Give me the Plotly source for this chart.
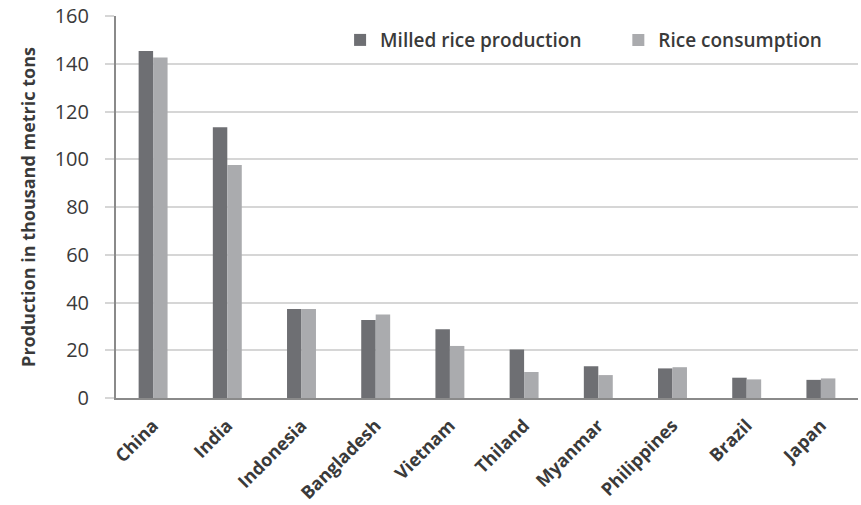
import plotly.graph_objects as go

countries = ["China", "India", "Indonesia", "Bangladesh", "Vietnam",
             "Thiland", "Myanmar", "Philippines", "Brazil", "Japan"]
milled_production = [145.3, 113.4, 37.3, 32.7, 28.8, 20.3, 13.3, 12.4, 8.5, 7.6]
consumption = [142.6, 97.6, 37.3, 35.0, 21.8, 10.9, 9.6, 12.9, 7.8, 8.2]

y_ticks = [0, 20, 40, 60, 80, 100, 120, 140, 160]

FONT = "Open Sans"
TEXT = "#3a3a3a"
legend_font = dict(family=FONT, size=19, color=TEXT, weight=600)

fig = go.Figure()
fig.add_trace(go.Bar(
    x=countries, y=milled_production, name="Milled rice production",
    marker=dict(color="#6e6f73", line=dict(width=0)), legend="legend",
))
fig.add_trace(go.Bar(
    x=countries, y=consumption, name="Rice consumption",
    marker=dict(color="#aaabae", line=dict(width=0)), legend="legend2",
))

fig.update_layout(
    width=861, height=505,
    margin=dict(l=116, r=3, t=16, b=107),
    paper_bgcolor="white", plot_bgcolor="white",
    barmode="group", bargap=0.61, bargroupgap=0,
    font=dict(family=FONT, color=TEXT, size=16),
    legend=dict(
        orientation="h", x=0.302, xanchor="left", y=0.937, yanchor="middle",
        bgcolor="rgba(0,0,0,0)", font=legend_font, itemwidth=30,
    ),
    legend2=dict(
        orientation="h", x=0.677, xanchor="left", y=0.937, yanchor="middle",
        bgcolor="rgba(0,0,0,0)", font=legend_font, itemwidth=30,
    ),
    showlegend=True,
)

fig.update_xaxes(
    automargin=False,
    showline=True, linecolor="#8a8a8a", linewidth=2,
    showgrid=False, ticks="", tickangle=-45,
    ticklabelstandoff=8,
    tickfont=dict(family=FONT, size=18, color=TEXT, weight=700),
)
fig.update_yaxes(
    automargin=False,
    range=[0, 160], tickvals=y_ticks,
    showline=True, linecolor="#8a8a8a", linewidth=2,
    showgrid=True, gridcolor="#d6d6d6", gridwidth=2,
    ticks="outside", ticklen=9, tickcolor="#d6d6d6", tickwidth=2,
    ticklabelstandoff=12,
    tickfont=dict(family=FONT, size=20, color=TEXT),
    zeroline=False,
    title=dict(text="Production in thousand metric tons",
               font=dict(family=FONT, size=18, color=TEXT, weight=700),
               standoff=14),
)

fig.write_html("out.html")
